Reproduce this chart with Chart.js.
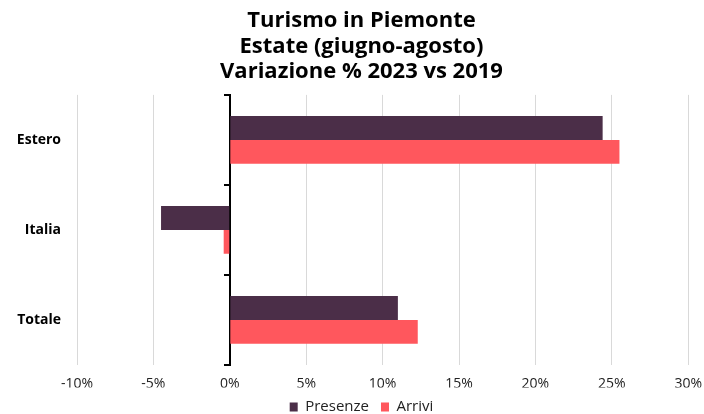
<!DOCTYPE html>
<html>
<head>
<meta charset="utf-8">
<script src="https://cdn.jsdelivr.net/npm/chart.js@4/dist/chart.umd.min.js"></script>
<style>
  html, body { margin: 0; padding: 0; background: #fff; }
  #wrap { width: 704px; height: 414px; position: relative; }
</style>
</head>
<body>
<div id="wrap"><canvas id="chart"></canvas></div>
<script>
// === Data ===
const categories = ["Estero", "Italia", "Totale"];
const presenze = [24.4, -4.5, 11.0];
const arrivi = [25.5, -0.4, 12.3];
const titleLines = ["Turismo in Piemonte", "Estate (giugno-agosto)", "Variazione % 2023 vs 2019"];

const FONT = "'Open Sans', 'DejaVu Sans', sans-serif";

const ctx = document.getElementById("chart").getContext("2d");
new Chart(ctx, {
  type: "bar",
  data: {
    labels: categories,
    datasets: [
      { label: "Presenze", data: presenze, backgroundColor: "#4b2e48" },
      { label: "Arrivi", data: arrivi, backgroundColor: "#ff575d" }
    ]
  },
  options: {
    indexAxis: "y",
    responsive: true,
    maintainAspectRatio: false,
    animation: false,
    // negative right/bottom so the title sits where the original has it
    layout: { padding: { left: 6, right: -13, top: 4, bottom: -10.5 } },
    datasets: {
      bar: { categoryPercentage: 0.53, barPercentage: 1.0 }
    },
    plugins: {
      title: {
        display: true,
        text: titleLines,
        color: "#000",
        font: { family: FONT, size: 22, weight: "bold", lineHeight: 1.165 },
        padding: { top: 4, bottom: 10 }
      },
      legend: {
        position: "bottom",
        labels: {
          color: "#222",
          font: { family: FONT, size: 15 },
          boxWidth: 8,
          boxHeight: 9,
          padding: 12
        }
      },
      tooltip: { enabled: false }
    },
    scales: {
      x: {
        min: -10,
        max: 30,
        ticks: {
          stepSize: 5,
          color: "#222",
          font: { family: FONT, size: 14, lineHeight: 2.4 },
          padding: 2,
          callback: v => v + "%"
        },
        grid: { color: "#d9d9d9", lineWidth: 1, drawTicks: false },
        border: { display: false },
        afterFit: s => { s.height = 22.5; }
      },
      y: {
        ticks: {
          color: "#000",
          font: { family: FONT, size: 14, weight: "bold" },
          padding: 16
        },
        grid: { display: false, drawTicks: false },
        border: { display: false },
        afterFit: s => { s.width = 71; }
      },
      // zero axis with small ticks at category boundaries
      yZero: {
        type: "category",
        axis: "y",
        labels: categories,
        position: { x: 0 },
        ticks: { display: false },
        grid: { drawOnChartArea: false, drawTicks: true, tickLength: 5, tickColor: "#000", lineWidth: 2, offset: true },
        border: { display: true, color: "#000", width: 2 }
      }
    }
  }
});
</script>
</body>
</html>
